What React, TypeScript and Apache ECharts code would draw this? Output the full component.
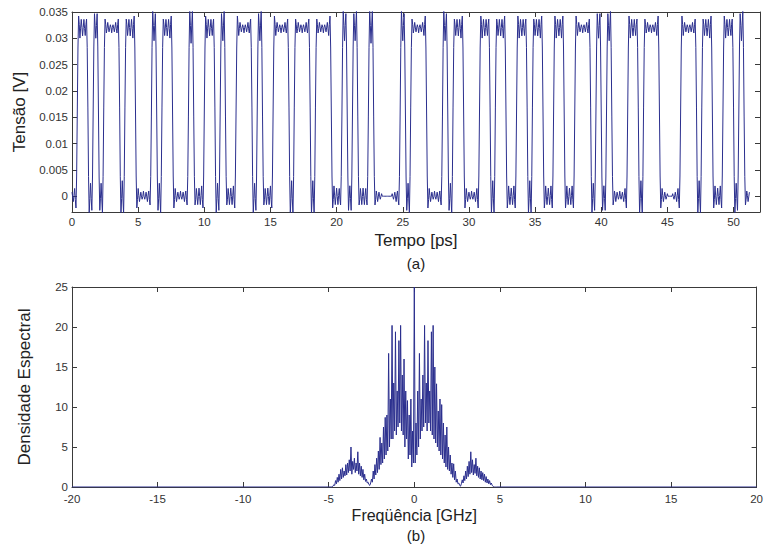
import React, { useEffect, useRef } from "react";
import * as echarts from "echarts";

// ---- (a) digital signal: bit sequence ----
const BITS = [
  0, 1, 1, 0, 1, 0, 1, 1, 1, 0,
  1, 1, 0, 0, 0, 1, 0, 1, 1, 0,
  0, 0, 1, 0, 0, 1, 1, 0, 1, 0,
  0, 1, 1, 1, 0, 1, 0, 0, 1, 1,
  1, 0, 1, 1, 1, 0, 1, 1, 1, 0,
  0, 1, 0, 1, 0, 0, 1, 0, 0, 0,
  0, 0, 1, 0, 1, 1, 1, 0, 0, 0,
  1, 0, 1, 1, 0, 0, 0, 1, 1, 0,
  1, 1, 0, 0, 1, 1, 0, 1, 1, 0,
  0, 1, 1, 0, 0, 1, 1, 1, 0, 1,
  0, 1, 0, 0, 0, 1, 1, 0, 1, 1,
  1, 0, 0, 0, 0, 1, 1, 1, 0, 1,
  1, 0, 0, 1, 1, 0, 1, 0,
];
const BIT_PERIOD = 0.4; // ps
const SAMPLES_PER_BIT = 8;
const LOW_LEVEL = 0.0; // V
const HIGH_LEVEL = 0.032; // V
// normalised edge shape (with ringing), offsets -0.60 .. +0.60 ps in 0.05 ps steps
const EDGE_PROFILE = [
  0.015, -0.002, -0.018, 0.002, 0.024, -0.004, -0.032, 0.006, 0.046, -0.02, -0.07, 0.12,
  0.5,
  0.88, 1.07, 1.02, 0.954, 0.996, 1.032, 1.004, 0.976, 0.998, 1.018, 1.002, 0.985,
];
const TIME_TICKS = [0, 5, 10, 15, 20, 25, 30, 35, 40, 45, 50];
const VOLT_TICKS = [0, 0.005, 0.01, 0.015, 0.02, 0.025, 0.03, 0.035];

// ---- (b) spectral density (-4.80 .. 4.80 GHz, step 0.05) ----
const SPEC_START = -4.8;
const SPEC_STEP = 0.05;
const SPEC_VALUES = [
  0, 0.1, 0.3, 0.2, 0.8, 0.4, 1.2, 0.6, 1.6, 0.8,
  2.2, 1.0, 2.4, 1.2, 2.0, 1.4, 2.8, 1.5, 3.0, 1.8,
  3.4, 2.0, 5.0, 1.6, 3.2, 2.2, 3.6, 1.8, 3.0, 2.0,
  4.4, 1.6, 3.0, 1.4, 2.6, 1.2, 2.2, 0.9, 1.6, 0.7,
  1.0, 0.5, 0.6, 0.3, 0.2, 0.5, 1.0, 0.6, 2.0, 1.0,
  2.8, 1.5, 3.6, 1.8, 4.5, 2.2, 6.2, 2.8, 5.5, 3.0,
  7.5, 3.5, 8.7, 4.0, 9.0, 4.5, 16.7, 5.0, 11.0, 6.0,
  20.2, 6.0, 13.0, 7.0, 19.4, 6.5, 12.0, 7.5, 18.3, 8.0,
  20.2, 7.0, 14.0, 6.5, 16.0, 5.0, 12.0, 6.0, 10.8, 3.5,
  9.0, 4.0, 11.0, 2.5, 7.0, 3.0, 25.0, 3.0, 8.0, 4.0,
  12.0, 5.0, 16.7, 6.0, 11.0, 7.0, 14.0, 7.5, 20.2, 8.0,
  13.0, 7.0, 18.3, 8.0, 12.0, 7.0, 19.4, 6.5, 20.2, 6.0,
  15.0, 5.5, 12.9, 5.0, 9.5, 4.5, 11.0, 4.0, 10.3, 3.5,
  8.0, 3.0, 6.5, 2.5, 7.5, 2.2, 5.0, 2.0, 4.0, 1.6,
  3.0, 1.2, 2.9, 0.9, 2.0, 0.6, 1.0, 0.4, 0.5, 0.2,
  0.1, 0.4, 0.9, 0.5, 1.4, 0.8, 2.0, 1.0, 2.6, 1.3,
  3.2, 1.6, 4.4, 1.8, 3.4, 1.5, 2.8, 1.7, 3.6, 1.4,
  2.6, 1.2, 2.4, 1.0, 2.0, 0.9, 1.8, 0.8, 1.6, 0.6,
  1.3, 0.5, 1.0, 0.4, 0.8, 0.3, 0.5, 0.2, 0.1, 0,
  0, 0, 0,
];
const FREQ_TICKS = [-20, -15, -10, -5, 0, 5, 10, 15, 20];
const DENS_TICKS = [0, 5, 10, 15, 20, 25];

const LINE_COLOR = "#2b2f8e";
const AXIS_COLOR = "#3a3a3a";
const LABEL_COLOR = "#333333";
const FONT = "Liberation Sans, Arial, sans-serif";

function buildWave(): number[][] {
  const n = BITS.length * SAMPLES_PER_BIT;
  const half = (EDGE_PROFILE.length - 1) / 2;
  const step = BIT_PERIOD / SAMPLES_PER_BIT;
  const out: number[][] = [];
  for (let i = 0; i <= n; i++) {
    let level = BITS[0];
    for (let k = 1; k < BITS.length; k++) {
      const d = BITS[k] - BITS[k - 1];
      if (!d) continue;
      const j = i - k * SAMPLES_PER_BIT;
      const p = j < -half ? 0 : j > half ? 1 : EDGE_PROFILE[j + half];
      level += d * p;
    }
    out.push([+(i * step).toFixed(3), LOW_LEVEL + (HIGH_LEVEL - LOW_LEVEL) * level]);
  }
  return out;
}

function buildSpectrum(): number[][] {
  const out: number[][] = [[-20, 0]];
  SPEC_VALUES.forEach((v, i) => out.push([+(SPEC_START + i * SPEC_STEP).toFixed(2), v]));
  out.push([20, 0]);
  return out;
}

const tickLabel = { color: LABEL_COLOR, fontFamily: FONT, fontSize: 11.5 };

function xAx(
  grid: number,
  min: number,
  max: number,
  ticks: number[],
  pos: "top" | "bottom",
  name = "",
  margin = 4,
  nameSize = 17
) {
  return {
    type: "value",
    gridIndex: grid,
    min,
    max,
    position: pos,
    axisLine: { show: true, onZero: false, lineStyle: { color: AXIS_COLOR, width: 1 } },
    axisTick: { show: true, inside: true, length: 5, customValues: ticks, lineStyle: { color: AXIS_COLOR } },
    axisLabel: {
      show: pos === "bottom",
      customValues: ticks,
      margin,
      ...tickLabel,
      formatter: (v: number) => String(v),
    },
    splitLine: { show: false },
    name,
    nameLocation: "middle",
    nameGap: 20,
    nameTextStyle: { color: "#222", fontFamily: FONT, fontSize: nameSize },
  };
}

function yAx(grid: number, min: number, max: number, ticks: number[], pos: "left" | "right", name = "") {
  return {
    type: "value",
    gridIndex: grid,
    min,
    max,
    position: pos,
    axisLine: { show: true, onZero: false, lineStyle: { color: AXIS_COLOR, width: 1 } },
    axisTick: { show: true, inside: true, length: 5, customValues: ticks, lineStyle: { color: AXIS_COLOR } },
    axisLabel: {
      show: pos === "left",
      customValues: ticks,
      margin: 4,
      ...tickLabel,
      formatter: (v: number) => String(+v.toFixed(3)),
    },
    splitLine: { show: false },
    name,
    nameLocation: "middle",
    nameGap: 39,
    nameTextStyle: { color: "#222", fontFamily: FONT, fontSize: 17 },
  };
}

export default function App() {
  const ref = useRef<HTMLDivElement>(null);
  useEffect(() => {
    const chart = echarts.init(ref.current!, null, { renderer: "svg" });
    chart.setOption({
      animation: false,
      backgroundColor: "#ffffff",
      grid: [
        { left: 72, top: 12, width: 688, height: 200 },
        { left: 72, top: 287, width: 688, height: 200 },
      ],
      xAxis: [
        xAx(0, 0, 52, TIME_TICKS, "bottom", "Tempo [ps]", 4, 17),
        xAx(0, 0, 52, TIME_TICKS, "top"),
        xAx(1, -20, 20, FREQ_TICKS, "bottom", "Freqüência [GHz]", 6, 16),
        xAx(1, -20, 20, FREQ_TICKS, "top"),
      ],
      yAxis: [
        yAx(0, -0.003, 0.035, VOLT_TICKS, "left", "Tensão [V]"),
        yAx(0, -0.003, 0.035, VOLT_TICKS, "right"),
        yAx(1, 0, 25, DENS_TICKS, "left", "Densidade Espectral"),
        yAx(1, 0, 25, DENS_TICKS, "right"),
      ],
      graphic: [
        {
          type: "text",
          x: 416,
          y: 263,
          style: { text: "(a)", fill: "#222", font: `15px ${FONT}`, textAlign: "center", textVerticalAlign: "middle" },
        },
        {
          type: "text",
          x: 416,
          y: 535,
          style: { text: "(b)", fill: "#222", font: `15px ${FONT}`, textAlign: "center", textVerticalAlign: "middle" },
        },
      ],
      series: [
        {
          type: "line",
          xAxisIndex: 0,
          yAxisIndex: 0,
          data: buildWave(),
          showSymbol: false,
          symbol: "none",
          lineStyle: { color: LINE_COLOR, width: 1 },
          clip: true,
        },
        {
          type: "line",
          xAxisIndex: 2,
          yAxisIndex: 2,
          data: buildSpectrum(),
          showSymbol: false,
          symbol: "none",
          lineStyle: { color: LINE_COLOR, width: 1 },
          clip: true,
        },
      ],
    });
    return () => chart.dispose();
  }, []);
  return <div ref={ref} style={{ position: "fixed", left: 0, top: 0, width: 766, height: 547 }} />;
}
